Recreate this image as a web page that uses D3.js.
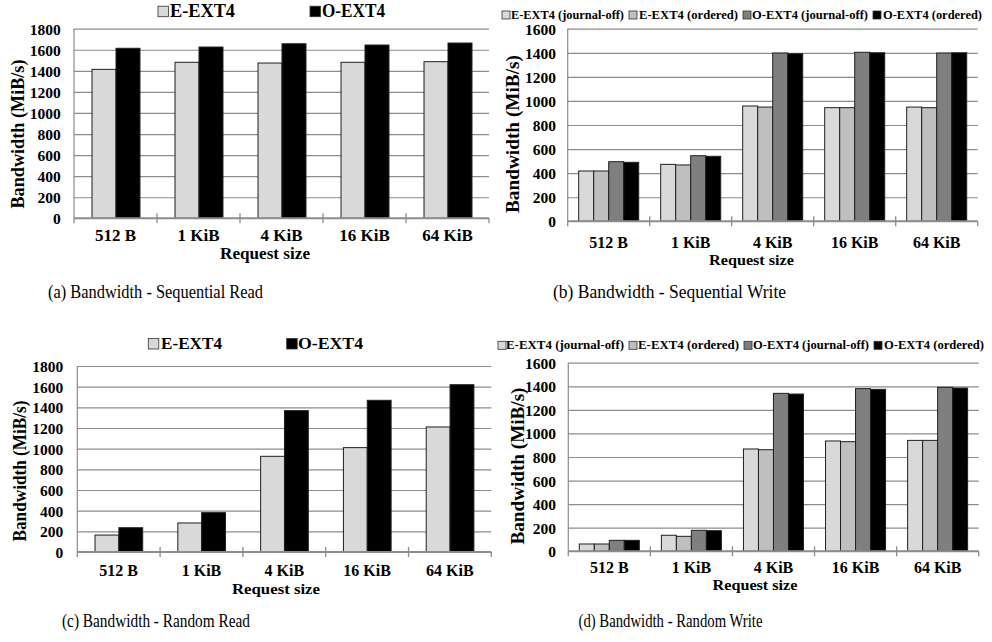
<!DOCTYPE html>
<html>
<head>
<meta charset="utf-8">
<script src="https://cdn.jsdelivr.net/npm/d3@7"></script>
<style>
  html, body { margin: 0; padding: 0; background: #ffffff; }
  svg { display: block; }
</style>
</head>
<body>
<svg id="chart" width="992" height="642" font-family="Liberation Serif"></svg>
<script>
// ---------- DATA ----------
const categories = ["512 B", "1 KiB", "4 KiB", "16 KiB", "64 KiB"];

const seriesTwo = ["E-EXT4", "O-EXT4"];
const seriesFour = ["E-EXT4 (journal-off)", "E-EXT4 (ordered)", "O-EXT4 (journal-off)", "O-EXT4 (ordered)"];

// (a) Sequential Read
const seqReadE = [1414, 1481, 1474, 1481, 1487];
const seqReadO = [1614, 1626, 1657, 1645, 1664];

// (b) Sequential Write
const seqWriteEJournalOff = [418, 473, 958, 944, 949];
const seqWriteEOrdered    = [418, 468, 949, 944, 944];
const seqWriteOJournalOff = [495, 545, 1398, 1404, 1398];
const seqWriteOOrdered    = [490, 540, 1392, 1400, 1400];

// (c) Random Read
const randReadE = [164, 281, 926, 1010, 1210];
const randReadO = [235, 381, 1368, 1468, 1619];

// (d) Random Write
const randWriteEJournalOff = [62, 136, 868, 936, 941];
const randWriteEOrdered    = [62, 127, 862, 930, 941];
const randWriteOJournalOff = [93, 178, 1340, 1380, 1391];
const randWriteOOrdered    = [93, 175, 1334, 1374, 1385];

const ticks1800 = [0, 200, 400, 600, 800, 1000, 1200, 1400, 1600, 1800];
const ticks1600 = [0, 200, 400, 600, 800, 1000, 1200, 1400, 1600];

const yAxisTitle = "Bandwidth (MiB/s)";
const xAxisTitle = "Request size";
const captions = [
  "(a) Bandwidth - Sequential Read",
  "(b) Bandwidth - Sequential Write",
  "(c) Bandwidth - Random Read",
  "(d) Bandwidth - Random Write"
];

// ---------- STYLE ----------
const FONT = "Liberation Serif";
const paletteTwo = ["#d9d9d9", "#000000"];
const paletteFour = ["#d9d9d9", "#bfbfbf", "#7f7f7f", "#000000"];
const gridColor = "#8c8c8c";
const barStroke = "#202020";

// ---------- LAYOUT ----------
const panels = [
  {
    series: seriesTwo, values: [seqReadE, seqReadO], colors: paletteTwo,
    x0: 74, x1: 489, yTop: 28.7, y0: 218.3, max: 1800, ticks: ticks1800,
    groupOff: 0.217, groupFrac: 0.578, tickRight: 60.7, xLabelBase: 240.5, xLabelFs: 17,
    xTitle: { x: 265, y: 258.5, len: 90, fs: 17 },
    yTitle: { x: 23.5, y: 134, len: 149 },
    legend: { base: 16.7, fs: 18, sq: 10.5, items: [{ s: 158, t: 170, len: 65 }, { s: 310, t: 322, len: 63 }] },
    caption: { x: 155.5, y: 298, len: 215 }
  },
  {
    series: seriesFour, values: [seqWriteEJournalOff, seqWriteEOrdered, seqWriteOJournalOff, seqWriteOOrdered], colors: paletteFour,
    x0: 567.7, x1: 977.7, yTop: 28.7, y0: 221.3, max: 1600, ticks: ticks1600,
    groupOff: 0.134, groupFrac: 0.732, tickRight: 556, xLabelBase: 247.5, xLabelFs: 16,
    xTitle: { x: 751.5, y: 264.5, len: 85, fs: 14 },
    yTitle: { x: 518.5, y: 134, len: 158 },
    legend: { base: 19, fs: 13.5, sq: 8, items: [{ s: 502, t: 511, len: 113 }, { s: 629, t: 639, len: 99 }, { s: 743, t: 752, len: 116 }, { s: 873, t: 883, len: 99 }] },
    caption: { x: 669.5, y: 298, len: 233 }
  },
  {
    series: seriesTwo, values: [randReadE, randReadO], colors: paletteTwo,
    x0: 77.3, x1: 491.3, yTop: 366, y0: 552, max: 1800, ticks: ticks1800,
    groupOff: 0.214, groupFrac: 0.576, tickRight: 63.3, xLabelBase: 576, xLabelFs: 16,
    xTitle: { x: 276, y: 593.5, len: 88, fs: 14 },
    yTitle: { x: 26, y: 471, len: 141 },
    legend: { base: 349, fs: 17, sq: 10.5, items: [{ s: 148.3, t: 161, len: 61 }, { s: 286.7, t: 298, len: 65 }] },
    caption: { x: 156, y: 627, len: 188 }
  },
  {
    series: seriesFour, values: [randWriteEJournalOff, randWriteEOrdered, randWriteOJournalOff, randWriteOOrdered], colors: paletteFour,
    x0: 568.3, x1: 978.7, yTop: 362.7, y0: 551.3, max: 1600, ticks: ticks1600,
    groupOff: 0.134, groupFrac: 0.731, tickRight: 556, xLabelBase: 573, xLabelFs: 16,
    xTitle: { x: 755, y: 590, len: 85, fs: 14 },
    yTitle: { x: 524, y: 466, len: 157 },
    legend: { base: 349.3, fs: 13.5, sq: 8, items: [{ s: 498, t: 506, len: 118 }, { s: 629, t: 638, len: 101 }, { s: 744, t: 753, len: 116 }, { s: 874, t: 884, len: 100 }] },
    caption: { x: 670.5, y: 627, len: 184 }
  }
];

const svg = d3.select("#chart");

panels.forEach((p, pi) => {
  const g = svg.append("g").attr("font-family", FONT);
  const x = d3.scaleBand().domain(categories).range([p.x0, p.x1]).padding(0);
  const bw = x.bandwidth();
  const xs = d3.scaleBand().domain(p.series)
    .range([bw * p.groupOff, bw * (p.groupOff + p.groupFrac)]).padding(0);
  const y = d3.scaleLinear().domain([0, p.max]).range([p.y0, p.yTop]);
  const color = d3.scaleOrdinal().domain(p.series).range(p.colors);

  // gridlines
  const grid = g.append("g").attr("transform", `translate(${p.x0},0)`)
    .call(d3.axisLeft(y).tickValues(p.ticks.filter(t => t > 0)).tickSize(-(p.x1 - p.x0)).tickFormat(""));
  grid.select(".domain").remove();
  grid.selectAll(".tick line").attr("stroke", gridColor).attr("stroke-width", 1.2);

  // left vertical line
  g.append("line").attr("x1", p.x0).attr("x2", p.x0).attr("y1", y(p.max)).attr("y2", p.y0)
    .attr("stroke", gridColor).attr("stroke-width", 1.2);

  // y tick labels
  const ya = g.append("g").attr("transform", `translate(${p.tickRight},0)`)
    .call(d3.axisLeft(y).tickValues(p.ticks).tickSize(0).tickPadding(0).tickFormat(d3.format("d")));
  ya.attr("font-family", FONT);
  ya.select(".domain").remove();
  ya.selectAll("text").attr("font-family", FONT).attr("font-weight", "bold")
    .attr("font-size", 15.5).attr("fill", "#000").attr("dy", "0.35em");

  // bars
  p.series.forEach((s, si) => {
    g.append("g").selectAll("rect").data(categories.map((c, ci) => ({ c, v: p.values[si][ci] })))
      .join("rect")
      .attr("x", d => x(d.c) + xs(s))
      .attr("y", d => y(d.v))
      .attr("width", xs.bandwidth())
      .attr("height", d => p.y0 - y(d.v))
      .attr("fill", color(s))
      .attr("stroke", barStroke)
      .attr("stroke-width", 1);
  });

  // x axis line + boundary ticks
  g.append("line").attr("x1", p.x0).attr("x2", p.x1).attr("y1", p.y0).attr("y2", p.y0)
    .attr("stroke", gridColor).attr("stroke-width", 2);
  const bounds = categories.map(c => x(c)).concat([p.x1]);
  g.append("g").selectAll("line").data(bounds).join("line")
    .attr("x1", d => d).attr("x2", d => d)
    .attr("y1", (d, i) => (i === 0 || i === bounds.length - 1) ? p.y0 : p.y0 - 5)
    .attr("y2", p.y0 + 5)
    .attr("stroke", gridColor).attr("stroke-width", 1.3);

  // x category labels
  const xa = g.append("g").attr("transform", `translate(0,${p.xLabelBase})`)
    .call(d3.axisBottom(x).tickSize(0).tickPadding(0));
  xa.attr("font-family", FONT);
  xa.select(".domain").remove();
  xa.selectAll("text").attr("font-family", FONT).attr("font-weight", "bold")
    .attr("font-size", p.xLabelFs).attr("fill", "#000").attr("dy", 0).attr("y", 0);

  // axis titles
  g.append("text").attr("x", p.xTitle.x).attr("y", p.xTitle.y).attr("text-anchor", "middle")
    .attr("font-family", FONT).attr("font-weight", "bold").attr("font-size", p.xTitle.fs)
    .attr("textLength", p.xTitle.len).attr("lengthAdjust", "spacingAndGlyphs")
    .text(xAxisTitle);
  g.append("text").attr("transform", `translate(${p.yTitle.x},${p.yTitle.y}) rotate(-90)`)
    .attr("text-anchor", "middle").attr("font-family", FONT).attr("font-weight", "bold").attr("font-size", 18)
    .attr("textLength", p.yTitle.len).attr("lengthAdjust", "spacingAndGlyphs")
    .text(yAxisTitle);

  // legend
  p.series.forEach((s, si) => {
    const it = p.legend.items[si];
    g.append("rect").attr("x", it.s).attr("y", p.legend.base - p.legend.sq)
      .attr("width", p.legend.sq).attr("height", p.legend.sq)
      .attr("fill", color(s)).attr("stroke", "#333").attr("stroke-width", 0.8);
    g.append("text").attr("x", it.t).attr("y", p.legend.base)
      .attr("font-family", FONT).attr("font-weight", "bold").attr("font-size", p.legend.fs)
      .attr("textLength", it.len).attr("lengthAdjust", "spacingAndGlyphs")
      .text(s);
  });

  // caption
  g.append("text").attr("x", p.caption.x).attr("y", p.caption.y).attr("text-anchor", "middle")
    .attr("font-family", FONT).attr("font-size", 19)
    .attr("textLength", p.caption.len).attr("lengthAdjust", "spacingAndGlyphs")
    .text(captions[pi]);
});
</script>
</body>
</html>
